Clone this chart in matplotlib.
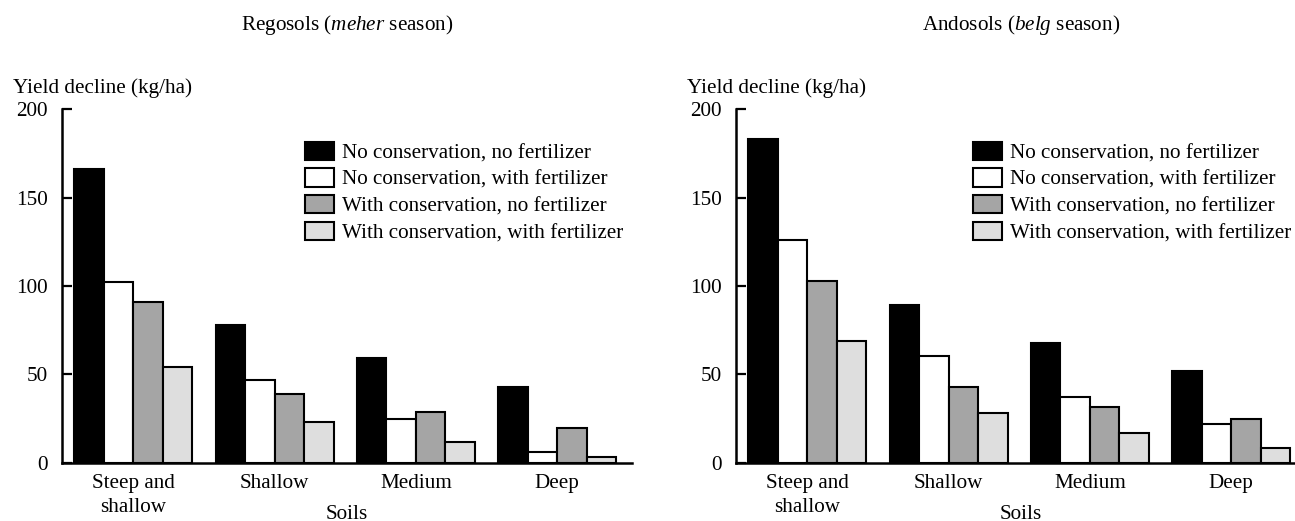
import numpy as np
import matplotlib
matplotlib.use("Agg")
import matplotlib.pyplot as plt

plt.rcParams["font.family"] = ["Liberation Serif", "DejaVu Serif"]
plt.rcParams["mathtext.fontset"] = "custom"
plt.rcParams["mathtext.rm"] = "Liberation Serif"
plt.rcParams["mathtext.it"] = "Liberation Serif:italic"

# Yield decline (kg/ha) by soil class and treatment
soils = ["Steep and\nshallow", "Shallow", "Medium", "Deep"]
treatments = [
    "No conservation, no fertilizer",
    "No conservation, with fertilizer",
    "With conservation, no fertilizer",
    "With conservation, with fertilizer",
]
regosols_meher = [
    [166, 78, 59, 43],   # no conservation, no fertilizer
    [102, 47, 24.5, 6],  # no conservation, with fertilizer
    [91, 38.7, 28.5, 19.5],
    [54, 23, 11.5, 3],
]
andosols_belg = [
    [183, 89.5, 68, 52],
    [126, 60.6, 37.4, 22],
    [103, 43, 31.3, 25],
    [69, 28.3, 17, 8.3],
]
colors = ["black", "white", "#a5a5a5", "#dedede"]

fig = plt.figure(figsize=(12.95, 5.21), dpi=100)
ax1 = fig.add_axes([62 / 1295, 58.3 / 521, 570 / 1295, 353.4 / 521])
ax2 = fig.add_axes([736 / 1295, 58.3 / 521, 570 / 1295, 353.4 / 521])

FS = 15.2
width = 0.209
x = np.arange(len(soils))

panels = [
    (ax1, regosols_meher, r"Regosols ($\mathit{meher}$ season)", 0.4263),
    (ax2, andosols_belg, r"Andosols ($\mathit{belg}$ season)", 0.4163),
]

for ax, data, title, leg_x in panels:
    for i, vals in enumerate(data):
        ax.bar(x + (i - 1.5) * width, vals, width, color=colors[i],
               edgecolor="black", linewidth=1.5, label=treatments[i], zorder=2)
    ax.set_xlim(-0.505, 3.53)
    ax.set_ylim(0, 200)
    ax.set_yticks([0, 50, 100, 150, 200])
    ax.set_xticks(x)
    ax.set_xticklabels(soils, fontsize=FS, linespacing=1.4)
    ax.tick_params(axis="x", length=0, pad=8)
    ax.tick_params(axis="y", direction="in", length=7, width=1.6, pad=10,
                   labelsize=FS)
    for s in ["top", "right"]:
        ax.spines[s].set_visible(False)
    for s in ["left", "bottom"]:
        ax.spines[s].set_linewidth(1.8)
        ax.spines[s].set_capstyle("projecting")
    ax.text(0.5, 1.2244, title, transform=ax.transAxes, ha="center",
            va="baseline", fontsize=FS)
    ax.text(-0.086, 1.047, "Yield decline (kg/ha)", transform=ax.transAxes,
            ha="left", va="baseline", fontsize=FS)
    ax.text(0.5, -0.158, "Soils", transform=ax.transAxes, ha="center",
            va="baseline", fontsize=FS)
    ax.legend(loc="upper left", bbox_to_anchor=(leg_x, 0.908), frameon=False,
              fontsize=FS, borderpad=0, borderaxespad=0, handlelength=1.37,
              handleheight=0.95, handletextpad=0.38, labelspacing=0.25)

fig.savefig("out.png", dpi=100)
